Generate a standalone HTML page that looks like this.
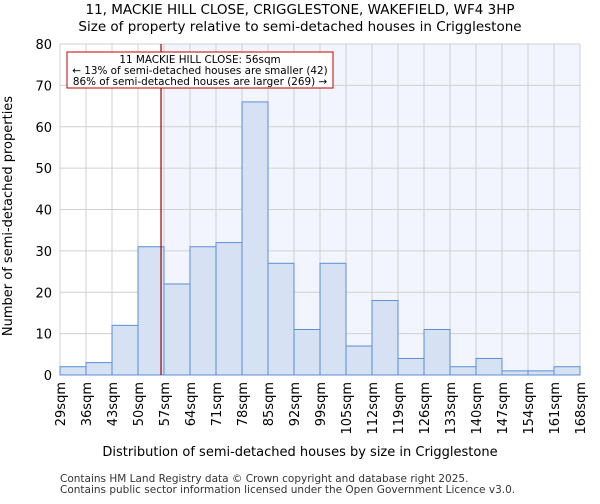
<!DOCTYPE html>
<html><head><meta charset="utf-8"><style>
body{margin:0;background:#fff;font-family:"DejaVu Sans","Liberation Sans",sans-serif}
</style></head><body>
<svg width="600" height="500" xmlns="http://www.w3.org/2000/svg" font-family="DejaVu Sans, Liberation Sans, sans-serif">
<text x="300" y="14" text-anchor="middle" font-size="13.5">11, MACKIE HILL CLOSE, CRIGGLESTONE, WAKEFIELD, WF4 3HP</text>
<text x="300" y="31" text-anchor="middle" font-size="13.5">Size of property relative to semi-detached houses in Crigglestone</text>
<g id="plot"></g>
<text x="300" y="456" text-anchor="middle" font-size="13">Distribution of semi-detached houses by size in Crigglestone</text>
<text transform="translate(12,216) rotate(-90)" text-anchor="middle" font-size="13">Number of semi-detached properties</text>
<text x="60" y="482" font-size="10.5" fill="#333">Contains HM Land Registry data © Crown copyright and database right 2025.</text>
<text x="60" y="493" font-size="10.5" fill="#333">Contains public sector information licensed under the Open Government Licence v3.0.</text>
</svg>
<script>
const labels=["29sqm","36sqm","43sqm","50sqm","57sqm","64sqm","71sqm","78sqm","85sqm","92sqm","99sqm","105sqm","112sqm","119sqm","126sqm","133sqm","140sqm","147sqm","154sqm","161sqm","168sqm"];
const counts=[2,3,12,31,22,31,32,66,27,11,27,7,18,4,11,2,4,1,1,2];
const yTicks=[0,10,20,30,40,50,60,70,80];
const marker=56.2;
const L=60,R=580,T=44,B=375,yMax=80;
const n=counts.length,bw=(R-L)/n;
const X=i=>L+i*bw;
const Y=v=>B-(v/yMax)*(B-T);
const NS="http://www.w3.org/2000/svg";
const g=document.getElementById('plot');
function mk(t,a){const e=document.createElementNS(NS,t);for(const k in a)e.setAttribute(k,a[k]);g.appendChild(e);return e;}
const sizes=labels.map(s=>parseFloat(s));
let mi=0;while(mi<sizes.length-2&&sizes[mi+1]<marker)mi++;
const mx=X(mi)+(marker-sizes[mi])/(sizes[mi+1]-sizes[mi])*bw;
let e=mk('rect',{x:mx,y:T,width:R-mx,height:B-T,fill:'#f2f5fd'});


for(let i=0;i<=n;i++){e=mk('line',{x1:X(i),x2:X(i),y1:T,y2:B,stroke:'#d0d0d0','stroke-width':1});

}
yTicks.forEach(v=>{e=mk('line',{x1:L,x2:R,y1:Y(v),y2:Y(v),stroke:'#d0d0d0','stroke-width':1});


e=mk('text',{x:L-8,y:Y(v)+5,'text-anchor':'end','font-size':13});e.textContent=v;

});
counts.forEach((c,i)=>{e=mk('rect',{x:X(i),y:Y(c),width:bw,height:B-Y(c),fill:'#d6e1f3',stroke:'#5a8fd6','stroke-width':1});

});
labels.forEach((l,i)=>{e=mk('text',{transform:`translate(${X(i)+5},${B+7}) rotate(-90)`,'text-anchor':'end','font-size':13});e.textContent=l;

});
e=mk('line',{x1:mx,x2:mx,y1:T,y2:B,stroke:'#a00000','stroke-width':1.2});


e=mk('rect',{x:67,y:52,width:266,height:36,fill:'#fff',stroke:'#c00000','stroke-width':1});


[["11 MACKIE HILL CLOSE: 56sqm",63],["← 13% of semi-detached houses are smaller (42)",74],["86% of semi-detached houses are larger (269) →",85]].forEach(([t,y])=>{e=mk('text',{x:200,y:y,'text-anchor':'middle','font-size':10.4});e.textContent=t;

});
</script>
</body></html>
